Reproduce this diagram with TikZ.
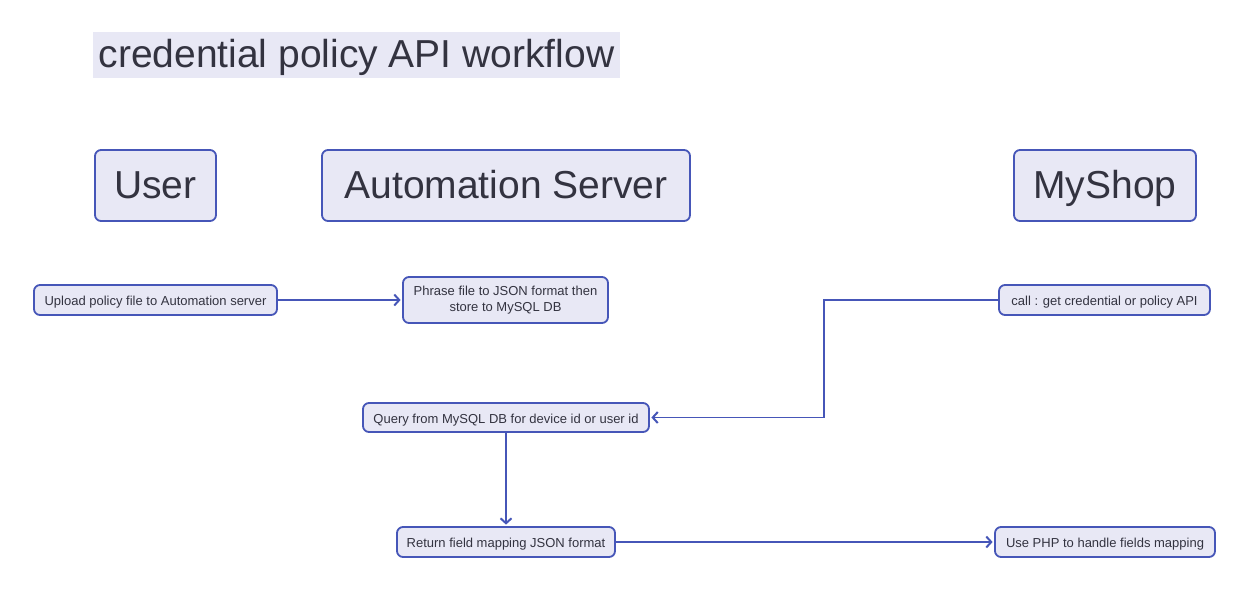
\documentclass[tikz,border=0pt]{standalone}
\usepackage{fontspec}
\setmainfont{Liberation Sans}
\usetikzlibrary{arrows.meta}
\definecolor{boxfill}{HTML}{E8E8F5}
\definecolor{boxline}{HTML}{4656B8}
\definecolor{txt}{HTML}{333340}
\tikzset{
  boxbase/.style={draw=boxline, fill=boxfill, line width=1.8pt, rounded corners=6pt,
    text=txt, inner sep=0pt, anchor=center},
  bigbox/.style={boxbase, font=\fontsize{39}{44}\selectfont,
    text height=28pt, text depth=3pt},
  twoline/.style={boxbase, font=\fontsize{13}{16}\selectfont, align=center},
  smallbox/.style={twoline, text height=12pt, text depth=1pt},
  conn/.style={draw=boxline, line width=1.5pt, shorten >=1.5pt,
    -{Straight Barb[length=5pt,width=11pt,line width=2pt]}}
}
\begin{document}
\begin{tikzpicture}[x=1pt,y=-1pt]
\useasboundingbox (0,0) rectangle (1249,592);
\fill[white] (0,0) rectangle (1249,592);
% title
\node[fill=boxfill, text=txt, font=\fontsize{39}{44}\selectfont, minimum width=527pt, minimum height=46pt, inner sep=0pt, text height=28pt, text depth=3pt] (title) at (356.5,55) {credential policy API workflow};
% headers
\node[bigbox, minimum width=121pt, minimum height=71pt] (user) at (155.5,185.5) {User};
\node[bigbox, minimum width=368pt, minimum height=71pt] (auto) at (506,185.5) {Automation Server};
\node[bigbox, minimum width=182pt, minimum height=71pt] (shop) at (1105,185.5) {MyShop};
% steps
\node[smallbox, minimum width=243pt, minimum height=30pt] (upload) at (155.5,300) {Upload policy file to Automation server};
\node[twoline, minimum width=205pt, minimum height=46pt] (phrase) at (505.5,300) {Phrase file to JSON format then\\store to MySQL DB};
\node[smallbox, minimum width=211pt, minimum height=30pt] (call) at (1104.5,300) {call : get credential or policy API};
\node[smallbox, minimum width=286pt, minimum height=29pt] (query) at (506,417.5) {Query from MySQL DB for device id or user id};
\node[smallbox, minimum width=218pt, minimum height=30pt] (ret) at (506,542) {Return field mapping JSON format};
\node[smallbox, minimum width=220pt, minimum height=30pt] (php) at (1105,542) {Use PHP to handle fields mapping};
% connectors
\draw[conn] (upload.east) -- (phrase.west);
\draw[conn] (call.west) -- (824,300) -- (824,417.5) -- (query.east);
\draw[conn] (query.south) -- (ret.north);
\draw[conn] (ret.east) -- (php.west);
\end{tikzpicture}
\end{document}
